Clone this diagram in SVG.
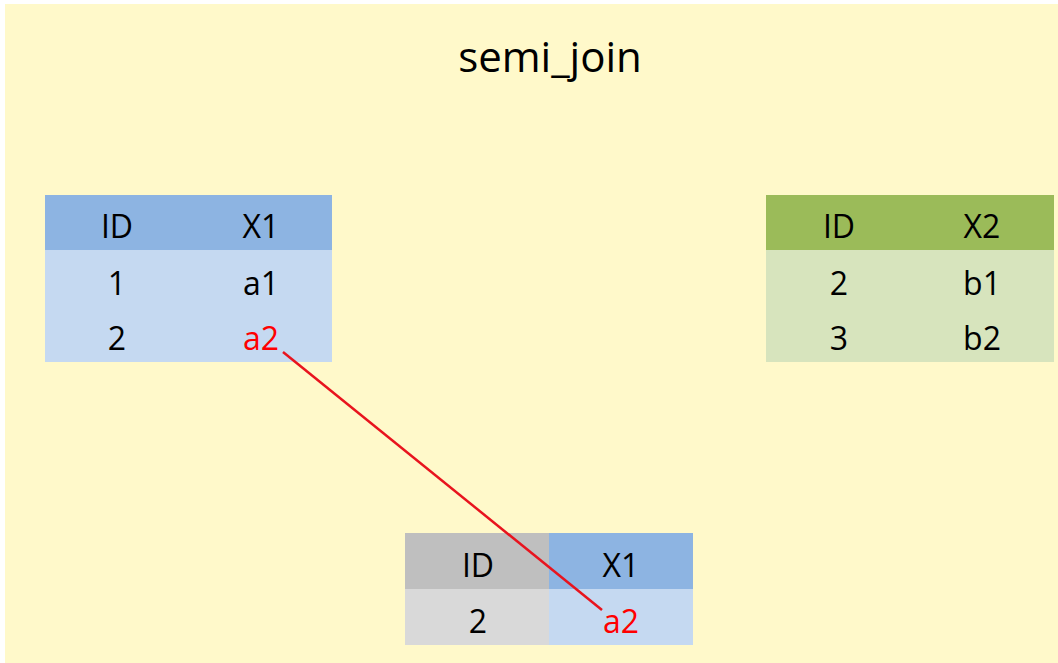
<svg xmlns="http://www.w3.org/2000/svg" width="1058" height="663" viewBox="0 0 1058 663">
<style>
text{font-family:"Open Sans","Noto Sans","Liberation Sans",sans-serif;fill:#000;text-anchor:middle}
.t{font-size:32px}
.title{font-size:42px}
.red{fill:#FF0000}
.bh{fill:#8DB4E2}.bb{fill:#C5D9F1}
.gh{fill:#9BBB59}.gb{fill:#D7E4BD}
.kh{fill:#BFBFBF}.kb{fill:#D9D9D9}
</style>
<rect x="0" y="0" width="1058" height="663" fill="#FFFFFF"/>
<rect x="5" y="4" width="1053" height="659" fill="#FFF9CA"/>
<text class="title" x="550" y="72">semi_join</text>
<g id="table-left">
<rect class="bh" x="45" y="195" width="287" height="55"/>
<rect class="bb" x="45" y="250" width="287" height="112"/>
<text class="t" x="117" y="238">ID</text><text class="t" x="261" y="238">X1</text>
<text class="t" x="117" y="295">1</text><text class="t" x="261" y="295">a1</text>
<text class="t" x="117" y="350">2</text><text class="t red" x="261" y="350">a2</text>
</g>
<g id="table-right">
<rect class="gh" x="766" y="195" width="288" height="55"/>
<rect class="gb" x="766" y="250" width="288" height="112"/>
<text class="t" x="839" y="238">ID</text><text class="t" x="982" y="238">X2</text>
<text class="t" x="839" y="295">2</text><text class="t" x="982" y="295">b1</text>
<text class="t" x="839" y="350">3</text><text class="t" x="982" y="350">b2</text>
</g>
<g id="table-result">
<rect class="kh" x="405" y="533" width="144" height="56"/>
<rect class="bh" x="549" y="533" width="144" height="56"/>
<rect class="kb" x="405" y="589" width="144" height="56"/>
<rect class="bb" x="549" y="589" width="144" height="56"/>
</g>
<g id="connectors">
<line x1="283" y1="352" x2="602" y2="610" stroke="#E8141E" stroke-width="2.5"/>
</g>
<g id="result-text">
<text class="t" x="478" y="577">ID</text><text class="t" x="621" y="577">X1</text>
<text class="t" x="478" y="633">2</text><text class="t red" x="621" y="633">a2</text>
</g>
</svg>
